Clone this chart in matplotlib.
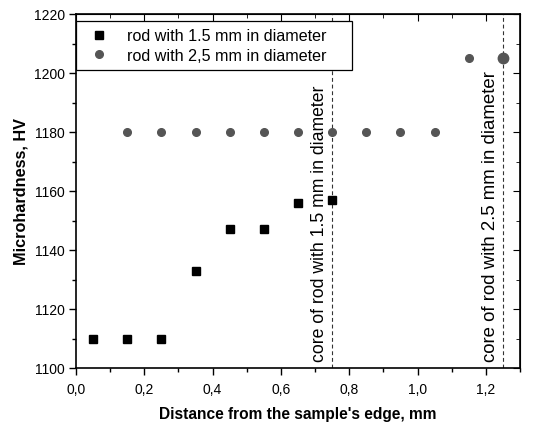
import matplotlib
matplotlib.use("Agg")
import matplotlib.pyplot as plt
from matplotlib.ticker import MultipleLocator, FuncFormatter

plt.rcParams['font.family'] = ['Liberation Sans', 'DejaVu Sans']

x_15 = [0.05, 0.15, 0.25, 0.35, 0.45, 0.55, 0.65, 0.75]
hv_15 = [1110, 1110, 1110, 1133, 1147, 1147, 1156, 1157]
x_25 = [0.15, 0.25, 0.35, 0.45, 0.55, 0.65, 0.75, 0.85, 0.95, 1.05, 1.15, 1.25]
hv_25 = [1180, 1180, 1180, 1180, 1180, 1180, 1180, 1180, 1180, 1180, 1205, 1205]
cores = [0.75, 1.25]
core_labels = ["core of rod with 1.5 mm in diameter", "core of rod with 2.5 mm in diameter"]
label_15 = "rod with 1.5 mm in diameter"
label_25 = "rod with 2,5 mm in diameter"

fig = plt.figure(figsize=(5.5, 4.27), dpi=100)
ax = fig.add_axes([76/550, 1-369/427, (520-76)/550, (369-15)/427])

ax.plot(x_15, hv_15, 's', color='black', markersize=5.3, linestyle='none', label=label_15, zorder=3)
ax.plot(x_25[:-1], hv_25[:-1], 'o', color='#555555', markersize=5.5, linestyle='none', label=label_25, zorder=3)
ax.plot(x_25[-1:], hv_25[-1:], 'o', color='#555555', markersize=7.5, linestyle='none', zorder=3)

for xc, lab, fs in zip(cores, core_labels, [12.7, 13.4]):
    ax.axvline(xc, color='#333333', linestyle=(0, (3.5, 2.5)), linewidth=0.8, zorder=2)
    ax.text(xc - 0.012, 1102.5, lab, rotation=90, ha='right', va='bottom', fontsize=fs)

ax.set_xlim(0, 1.3)
ax.set_ylim(1100, 1220)
ax.xaxis.set_major_locator(MultipleLocator(0.2))
ax.xaxis.set_minor_locator(MultipleLocator(0.1))
ax.yaxis.set_major_locator(MultipleLocator(20))
ax.yaxis.set_minor_locator(MultipleLocator(10))
ax.xaxis.set_major_formatter(FuncFormatter(lambda v, p: f"{v:.1f}".replace('.', ',')))

ax.tick_params(axis='both', which='major', direction='out', length=5, width=1, labelsize=10, pad=3)
ax.tick_params(axis='x', which='major', pad=5)
ax.tick_params(axis='both', which='minor', direction='out', length=3, width=1)
secx = ax.secondary_xaxis('top')
secx.xaxis.set_major_locator(MultipleLocator(0.2))
secx.xaxis.set_minor_locator(MultipleLocator(0.1))
secx.tick_params(which='major', direction='in', length=5, labeltop=False)
secx.tick_params(which='minor', direction='in', length=3)
secy = ax.secondary_yaxis('right')
secy.yaxis.set_major_locator(MultipleLocator(20))
secy.yaxis.set_minor_locator(MultipleLocator(10))
secy.tick_params(which='major', direction='in', length=5, labelright=False)
secy.tick_params(which='minor', direction='in', length=3)
for sp in ax.spines.values():
    sp.set_linewidth(1.2)

ax.set_xlabel("Distance from the sample's edge, mm", fontsize=11.2, fontweight='bold', labelpad=7)
ax.set_ylabel("Microhardness, HV", fontsize=11.7, fontweight='bold', labelpad=4)

leg = ax.legend(loc='upper left', bbox_to_anchor=(0.0, 0.98, 0.622, 0), mode='expand', fontsize=11.6,
                frameon=True, fancybox=False, edgecolor='black', framealpha=1, borderaxespad=0,
                handletextpad=0.7, borderpad=0.44, labelspacing=0.3, handlelength=2.0)
leg.get_frame().set_linewidth(0.9)

fig.savefig("out.png", dpi=100)
